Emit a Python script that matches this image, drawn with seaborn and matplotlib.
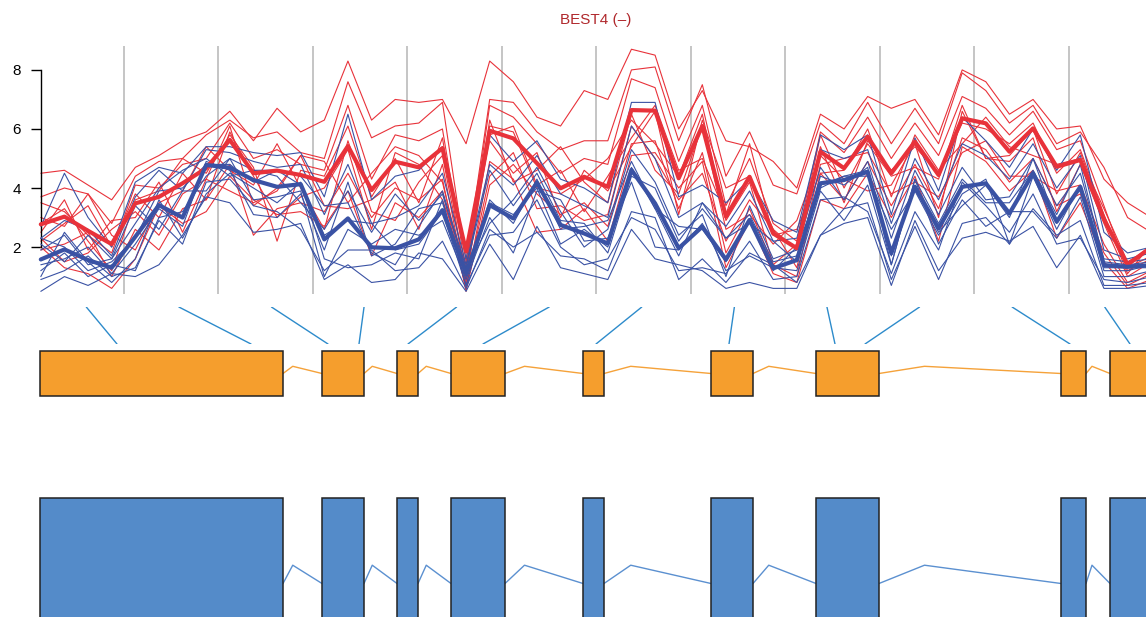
import matplotlib
matplotlib.use("Agg")
import matplotlib.pyplot as plt
import numpy as np
import pandas as pd
import seaborn as sns
from matplotlib.patches import Rectangle

sns.set_theme(style="white")
plt.rcParams["font.family"] = ["Liberation Sans", "DejaVu Sans"]

# ---------------------------------------------------------------- data
gene_label = "BEST4 (\u2013)"
n_bins = 12            # probe regions along the gene
per_bin = 4            # measurements per region

# individual profiles, condition A (red)
cond_a_profiles = [
    [4.5, 4.6, 4.1, 3.6, 4.7, 5.1, 5.6, 5.9, 6.6, 5.6, 6.7, 5.9, 6.3, 8.3, 6.3, 7.0, 6.9, 7.0, 5.5, 8.3, 7.6, 6.4, 6.1, 7.3,
     7.0, 8.7, 8.5, 6.0, 7.3, 5.6, 5.4, 4.9, 4.0, 6.5, 6.0, 7.1, 6.7, 7.0, 5.8, 8.0, 7.6, 6.5, 7.0, 6.0, 6.1, 4.3, 3.5, 3.0],
    [3.7, 4.0, 3.8, 2.8, 4.4, 4.9, 5.0, 5.8, 6.3, 5.7, 5.9, 5.2, 5.0, 7.6, 5.7, 6.1, 6.2, 6.9, 1.5, 7.0, 6.9, 5.9, 5.3, 5.6,
     5.6, 8.0, 8.1, 5.6, 7.5, 4.4, 5.9, 4.1, 3.8, 6.2, 5.5, 6.9, 5.5, 6.7, 5.5, 7.9, 7.3, 6.2, 6.8, 5.5, 5.9, 4.7, 3.0, 2.5],
    [3.5, 3.2, 2.4, 1.8, 4.1, 4.0, 4.8, 5.0, 6.2, 5.0, 5.3, 4.8, 4.6, 6.8, 4.3, 5.8, 5.6, 6.0, 1.2, 6.8, 6.4, 5.5, 4.5, 5.0,
     4.8, 7.7, 7.4, 4.9, 6.8, 3.4, 5.0, 2.8, 2.2, 5.9, 5.2, 6.4, 5.0, 6.2, 5.1, 7.1, 6.7, 5.8, 6.6, 5.3, 5.6, 3.4, 1.2, 1.6],
    [3.0, 2.7, 3.8, 2.4, 1.9, 3.5, 3.9, 5.4, 4.6, 4.1, 5.5, 4.0, 2.6, 5.6, 3.2, 2.9, 4.2, 5.1, 1.0, 6.3, 4.2, 4.6, 5.4, 4.2,
     3.5, 6.5, 4.6, 3.8, 6.1, 2.6, 3.1, 2.1, 2.9, 5.1, 4.3, 3.9, 4.1, 5.5, 3.0, 6.6, 5.0, 4.9, 5.7, 3.2, 4.8, 2.8, 1.0, 1.5],
    [2.3, 1.5, 1.8, 2.6, 3.2, 2.4, 3.8, 4.3, 3.9, 3.5, 3.9, 5.1, 3.4, 3.3, 3.6, 4.2, 2.6, 4.8, 0.7, 4.4, 5.2, 3.3, 3.4, 2.9,
     3.1, 6.1, 5.0, 3.6, 4.5, 2.2, 3.6, 2.6, 1.3, 4.8, 5.0, 5.2, 3.8, 4.2, 3.7, 5.2, 5.6, 4.4, 4.4, 3.9, 4.1, 2.1, 0.8, 1.2],
    [2.0, 1.3, 1.1, 0.6, 1.6, 3.4, 2.8, 3.2, 4.4, 3.6, 3.1, 3.2, 2.7, 3.9, 1.7, 3.5, 3.0, 3.9, 0.6, 4.9, 4.3, 2.5, 2.6, 3.3,
     2.2, 5.1, 5.2, 4.0, 4.9, 1.3, 2.9, 1.1, 0.8, 3.6, 3.3, 4.5, 3.0, 4.4, 2.2, 5.4, 4.9, 3.9, 4.6, 2.3, 3.5, 1.5, 0.6, 0.9],
    [2.5, 3.6, 1.9, 2.9, 3.0, 4.2, 2.5, 4.3, 6.1, 3.4, 4.0, 5.1, 4.9, 3.5, 4.5, 5.4, 5.1, 4.2, 0.9, 5.8, 6.1, 4.1, 4.6, 3.2,
     4.4, 5.7, 6.8, 4.6, 5.0, 3.1, 5.5, 2.4, 2.6, 4.5, 4.6, 6.0, 3.7, 5.8, 4.6, 5.5, 6.4, 5.4, 5.1, 4.8, 5.0, 3.3, 1.5, 2.0],
    [2.2, 2.8, 3.4, 2.0, 3.8, 3.0, 4.5, 3.6, 5.9, 4.4, 3.0, 3.7, 4.0, 5.3, 2.6, 5.2, 4.8, 3.6, 1.4, 5.6, 4.5, 5.2, 3.0, 4.6,
     3.9, 5.4, 6.6, 3.1, 6.3, 4.0, 4.4, 2.6, 1.9, 5.8, 4.0, 5.5, 4.4, 4.7, 4.3, 6.8, 5.0, 5.1, 6.0, 3.8, 5.2, 3.0, 1.3, 1.7],
    [2.8, 3.3, 2.2, 1.2, 3.6, 3.9, 5.0, 4.5, 5.8, 4.7, 2.2, 4.6, 4.4, 6.1, 3.7, 5.0, 3.5, 5.7, 0.8, 6.1, 5.9, 4.0, 3.8, 4.3,
     5.0, 6.3, 5.5, 4.4, 6.5, 2.9, 4.2, 1.4, 2.1, 5.4, 3.5, 5.6, 4.6, 5.4, 4.5, 6.2, 6.0, 5.5, 6.2, 4.5, 5.3, 3.1, 1.1, 2.1],
    [1.9, 2.1, 2.5, 1.0, 2.6, 1.9, 3.3, 3.6, 4.8, 2.4, 3.3, 3.5, 3.2, 4.5, 3.0, 4.0, 3.6, 4.3, 0.5, 4.1, 4.8, 3.8, 3.1, 3.5,
     2.7, 5.5, 5.6, 3.3, 5.2, 1.8, 3.3, 1.4, 1.0, 4.5, 3.6, 4.9, 3.4, 4.8, 3.3, 5.7, 5.3, 4.2, 5.0, 3.4, 3.8, 1.8, 0.7, 1.1],
]

# individual profiles, condition B (blue)
cond_b_profiles = [
    [2.7, 4.5, 3.0, 2.0, 4.2, 4.7, 4.5, 5.4, 5.4, 5.2, 5.1, 5.2, 3.7, 6.5, 3.6, 4.4, 4.6, 5.4, 1.6, 5.8, 4.9, 5.6, 4.3, 4.0,
     3.5, 6.9, 6.9, 3.7, 4.1, 3.5, 4.3, 2.9, 2.5, 5.8, 5.3, 5.8, 3.1, 5.7, 3.9, 6.4, 5.6, 4.7, 6.0, 4.6, 5.8, 2.5, 1.8, 2.0],
    [2.3, 2.9, 2.6, 1.7, 3.7, 4.6, 3.9, 5.3, 5.2, 4.9, 4.7, 4.8, 3.1, 4.8, 2.8, 3.0, 3.4, 4.5, 1.4, 4.8, 4.1, 5.1, 3.8, 3.4,
     3.0, 6.1, 5.0, 3.0, 3.5, 2.7, 3.9, 2.2, 2.3, 5.3, 5.0, 5.3, 2.8, 5.0, 3.6, 5.5, 5.1, 4.3, 5.5, 4.0, 5.1, 1.9, 1.6, 1.8],
    [1.9, 2.4, 1.4, 1.6, 2.8, 4.0, 4.6, 5.0, 4.4, 4.6, 4.4, 3.5, 2.6, 3.9, 2.5, 3.8, 2.9, 3.8, 1.2, 2.8, 3.6, 4.7, 3.2, 2.0,
     2.6, 5.3, 4.2, 2.4, 3.1, 1.0, 3.4, 1.6, 1.9, 4.7, 3.6, 4.9, 2.3, 4.6, 3.1, 4.7, 3.6, 3.7, 5.0, 3.4, 4.5, 1.6, 1.5, 1.6],
    [1.4, 1.6, 2.0, 1.1, 2.1, 3.3, 2.7, 4.9, 4.6, 3.1, 3.0, 3.8, 1.9, 4.2, 1.7, 2.1, 3.3, 3.5, 1.0, 3.6, 2.8, 4.3, 2.6, 2.7,
     2.9, 4.9, 3.3, 1.7, 3.5, 2.3, 2.8, 2.2, 1.5, 4.1, 4.4, 4.4, 2.6, 3.9, 2.4, 3.8, 4.3, 2.1, 4.4, 2.6, 4.1, 1.2, 1.2, 1.4],
    [1.2, 1.8, 1.0, 1.4, 1.2, 3.0, 3.2, 4.4, 5.0, 3.6, 3.7, 3.9, 1.0, 2.6, 2.1, 2.6, 2.4, 2.9, 0.9, 3.0, 1.8, 3.9, 3.6, 2.2,
     2.3, 4.2, 2.0, 1.9, 2.8, 1.2, 1.7, 1.3, 1.2, 3.9, 2.9, 4.1, 1.4, 4.3, 2.1, 3.6, 2.7, 3.2, 3.2, 2.3, 3.7, 1.0, 1.0, 1.2],
    [1.0, 2.5, 1.5, 0.8, 1.6, 3.6, 2.3, 3.8, 4.5, 4.0, 3.5, 4.2, 1.6, 1.3, 1.4, 1.8, 1.6, 3.6, 0.7, 2.4, 2.5, 3.6, 2.0, 1.4,
     1.6, 3.0, 2.6, 1.2, 1.3, 1.1, 2.2, 0.9, 1.0, 3.6, 3.7, 3.2, 1.1, 3.2, 1.9, 4.2, 3.4, 2.5, 3.8, 2.1, 2.3, 0.9, 0.8, 1.0],
    [0.9, 1.2, 1.7, 1.0, 1.3, 2.9, 2.1, 4.2, 4.3, 3.4, 3.2, 2.6, 1.2, 1.9, 1.9, 1.2, 1.3, 2.2, 0.6, 2.6, 2.0, 2.5, 1.7, 1.6,
     1.2, 3.2, 3.0, 0.9, 1.6, 0.8, 1.8, 1.4, 0.8, 2.4, 3.3, 3.5, 0.9, 2.7, 0.9, 2.8, 3.0, 2.1, 3.3, 2.4, 2.9, 0.7, 0.7, 0.8],
    [0.5, 1.0, 0.7, 1.1, 1.0, 1.4, 2.4, 3.7, 3.5, 2.5, 2.6, 2.8, 0.9, 1.4, 0.8, 0.9, 1.8, 1.6, 0.5, 2.1, 0.9, 2.7, 1.3, 1.1,
     0.9, 2.6, 1.6, 1.4, 1.2, 0.6, 0.8, 0.6, 0.6, 2.4, 2.8, 3.0, 0.7, 2.9, 1.2, 2.3, 2.5, 2.2, 2.7, 1.3, 2.4, 0.6, 0.6, 0.7],
    [2.1, 1.5, 2.4, 1.6, 3.4, 2.6, 3.9, 3.9, 5.0, 4.6, 4.6, 4.4, 3.4, 3.5, 1.8, 1.4, 2.7, 3.9, 1.3, 4.6, 3.4, 4.5, 2.9, 2.8,
     1.8, 4.4, 4.0, 2.2, 3.3, 2.3, 3.1, 1.5, 1.7, 4.4, 4.1, 4.7, 1.4, 4.3, 2.8, 4.3, 3.5, 3.5, 4.6, 3.1, 4.8, 1.5, 1.4, 1.5],
    [2.3, 2.0, 1.2, 1.5, 2.3, 3.9, 4.0, 4.8, 4.8, 4.2, 4.6, 4.1, 2.4, 2.9, 2.8, 1.9, 2.1, 3.2, 0.7, 3.5, 3.1, 4.0, 2.1, 2.6,
     2.0, 4.7, 3.3, 2.7, 2.6, 1.5, 2.9, 1.2, 2.0, 4.0, 4.4, 4.6, 1.7, 4.1, 2.5, 3.4, 4.1, 3.0, 5.0, 2.8, 4.0, 1.3, 1.3, 1.3],
]

# group summary profiles
cond_a_mean = [2.77, 3.03, 2.55, 2.10, 3.48, 3.70, 4.16, 4.67, 5.63, 4.50, 4.59, 4.44,
               4.21, 5.42, 3.93, 4.89, 4.70, 5.35, 1.85, 5.94, 5.68, 4.84, 3.99, 4.38,
               4.04, 6.64, 6.62, 4.33, 6.10, 3.03, 4.38, 2.46, 1.96, 5.23, 4.67, 5.74,
               4.50, 5.57, 4.44, 6.36, 6.19, 5.23, 6.02, 4.72, 4.95, 2.95, 1.40, 2.00]
cond_b_mean = [1.58, 1.92, 1.56, 1.30, 2.35, 3.42, 3.00, 4.78, 4.69, 4.27, 4.04, 4.13,
               2.26, 2.97, 1.99, 1.96, 2.26, 3.25, 1.11, 3.42, 2.97, 4.18, 2.75, 2.46,
               2.12, 4.61, 3.48, 1.96, 2.69, 1.58, 2.92, 1.28, 1.56, 4.16, 4.27, 4.55,
               1.79, 4.04, 2.63, 4.04, 4.16, 3.14, 4.50, 2.86, 4.04, 1.39, 1.33, 1.39]

# gene model (relative coordinates along the transcript)
exon_start = [0, 282, 357, 411, 543, 671, 776, 1021, 1070]
exon_end = [243, 324, 378, 465, 564, 713, 839, 1046, 1111]
probe_pos = [77, 211, 288, 319, 368, 443, 556, 689, 795, 825, 1030, 1090]
y_ticks = [2, 4, 6, 8]

# ---------------------------------------------------------------- styles
RED = "#E8323A"
BLUE = "#3A52A4"
TITLE_RED = "#B0282C"
GRID = "#C0C0C0"
LINK = "#2D8BCB"
ORANGE = "#F59E2D"
ORANGE_LINE = "#F5A23A"
EXON_BLUE = "#548BC9"
INTRON_BLUE = "#5B90D0"

W, H = 1146, 617
fig = plt.figure(figsize=(W / 100, H / 100), dpi=100)


def px_axes(x0, y0, x1, y1):
    return fig.add_axes([x0 / W, 1 - y1 / H, (x1 - x0) / W, (y1 - y0) / H])


def long_frame(profiles, cond):
    rows = []
    for s, prof in enumerate(profiles):
        for i, v in enumerate(prof):
            rows.append({"pos": i, "value": v, "sample": f"{cond}{s}", "cond": cond})
    return pd.DataFrame(rows)


df_a = long_frame(cond_a_profiles, "A")
df_b = long_frame(cond_b_profiles, "B")
n_pts = n_bins * per_bin
df_mean = pd.DataFrame({
    "pos": list(range(n_pts)) * 2,
    "value": cond_a_mean + cond_b_mean,
    "cond": ["A"] * n_pts + ["B"] * n_pts,
})

# ---------------------------------------------------------------- profile panel
ax = px_axes(29, 46, 1163, 294)
for b in range(1, n_bins):
    ax.axvline(b * per_bin - 0.5, color=GRID, lw=1.3, zorder=0)

sns.lineplot(data=df_a, x="pos", y="value", units="sample", estimator=None,
             color=RED, lw=0.8, ax=ax, legend=False, zorder=2)
sns.lineplot(data=df_b, x="pos", y="value", units="sample", estimator=None,
             color=BLUE, lw=0.8, ax=ax, legend=False, zorder=3)
sns.lineplot(data=df_mean[df_mean.cond == "A"], x="pos", y="value", estimator=None,
             color=RED, lw=3.0, ax=ax, legend=False, zorder=4)
sns.lineplot(data=df_mean[df_mean.cond == "B"], x="pos", y="value", estimator=None,
             color=BLUE, lw=3.0, ax=ax, legend=False, zorder=5)

ax.set_xlim(-0.5, n_pts - 0.5)
ax.set_ylim(0.41, 8.81)
ax.set_xlabel("")
ax.set_ylabel("")
ax.set_xticks([])
ax.set_yticks(y_ticks)
ax.set_yticklabels([str(t) for t in y_ticks])
for side in ("top", "right", "bottom"):
    ax.spines[side].set_visible(False)
ax.spines["left"].set_position(("data", 0))
ax.spines["left"].set_bounds(min(y_ticks), max(y_ticks))
ax.spines["left"].set_color("black")
ax.spines["left"].set_linewidth(1.0)
ax.tick_params(axis="y", left=True, length=7.2, width=1.0, pad=7,
               labelsize=11, colors="black", direction="out")
ax.set_facecolor("none")
ax.set_title(gene_label, color=TITLE_RED, fontsize=11, pad=16)

# ---------------------------------------------------------------- gene model
gene_len = exon_end[-1]

link_ax = px_axes(40, 307, 40 + gene_len, 344)
for k, p in enumerate(probe_pos):
    top = (k + 0.5) * gene_len / n_bins
    link_ax.plot([top, p], [1, 0], color=LINK, lw=1.0)
link_ax.set_xlim(0, gene_len)
link_ax.set_ylim(0, 1)
link_ax.axis("off")


def draw_gene(axg, face, line_color, peak):
    for s, e in zip(exon_start, exon_end):
        axg.add_patch(Rectangle((s, 0), e - s, 1, facecolor=face, edgecolor="#222222",
                                lw=1.1, clip_on=False, zorder=3))
    for j in range(len(exon_start) - 1):
        a, b = exon_end[j], exon_start[j + 1]
        axg.plot([a, a + 0.25 * (b - a), b], [0.5, peak, 0.5],
                 color=line_color, lw=1.0, zorder=2, clip_on=False)
    axg.set_xlim(0, gene_len)
    axg.set_ylim(0, 1)
    axg.axis("off")


orange_ax = px_axes(40, 351, 40 + gene_len, 396)
draw_gene(orange_ax, ORANGE, ORANGE_LINE, 0.66)

blue_ax = px_axes(40, 498, 40 + gene_len, 669)
draw_gene(blue_ax, EXON_BLUE, INTRON_BLUE, 0.607)

fig.savefig("out.png", dpi=100)
